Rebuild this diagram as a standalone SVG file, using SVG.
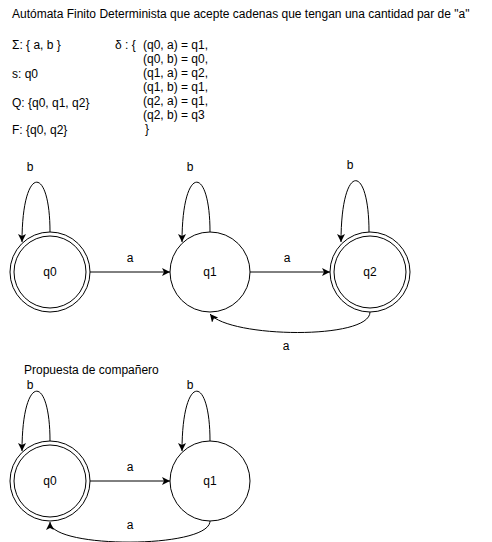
<svg xmlns="http://www.w3.org/2000/svg" width="492" height="542" viewBox="0 0 492 542">
<style>
text{font-family:"Liberation Sans",Arial,sans-serif;font-size:12px;fill:#000}
.c{text-anchor:middle}
.n{fill:#fff;stroke:#000;stroke-width:1}
.e{fill:none;stroke:#000;stroke-width:1}
</style>
<defs>
<marker id="ah" markerWidth="10" markerHeight="8" refX="8" refY="4" orient="auto" markerUnits="userSpaceOnUse">
<path d="M0,0 L8,4 L0,8 L2,4 Z" fill="#000"/>
</marker>
</defs>
<rect width="492" height="542" fill="#fff"/>
<g id="texts">
<text x="12" y="18">Autómata Finito Determinista que acepte cadenas que tengan una cantidad par de "a"</text>
<text x="12" y="49">Σ: { a, b }</text>
<text x="12" y="78">s: q0</text>
<text x="12" y="107">Q: {q0, q1, q2}</text>
<text x="12" y="134">F: {q0, q2}</text>
<text x="115" y="49">δ : {</text>
<text x="143" y="49">(q0, a) = q1,</text>
<text x="143" y="63">(q0, b) = q0,</text>
<text x="143" y="77">(q1, a) = q2,</text>
<text x="143" y="91">(q1, b) = q1,</text>
<text x="143" y="105">(q2, a) = q1,</text>
<text x="143" y="119">(q2, b) = q3</text>
<text x="145" y="133">}</text>
<text x="24" y="374">Propuesta de compañero</text>
</g>
<g id="connectors">
<path class="e" d="M90 272 L170 272" marker-end="url(#ah)"/>
<path class="e" d="M250 272 L330 272" marker-end="url(#ah)"/>
<path class="e" d="M370 312 C370 340 230 338 210 314" marker-end="url(#ah)"/>
<path class="e" d="M50 232 C50 164 22 164 22 242" marker-end="url(#ah)"/>
<path class="e" d="M210 232 C210 164 182 164 182 242" marker-end="url(#ah)"/>
<path class="e" d="M369 232 C369 162 341 162 341 242" marker-end="url(#ah)"/>
<path class="e" d="M90 481 L170 481" marker-end="url(#ah)"/>
<path class="e" d="M210 521 C210 549 50 549 50 522" marker-end="url(#ah)"/>
<path class="e" d="M50 441 C50 373 22 373 22 451" marker-end="url(#ah)"/>
<path class="e" d="M210 441 C210 373 182 373 182 451" marker-end="url(#ah)"/>
<text class="c" x="130" y="262">a</text>
<text class="c" x="287" y="262">a</text>
<text class="c" x="286" y="350">a</text>
<text class="c" x="30" y="171">b</text>
<text class="c" x="190" y="171">b</text>
<text class="c" x="350" y="169">b</text>
<text class="c" x="130" y="471">a</text>
<text class="c" x="130" y="529">a</text>
<text class="c" x="30" y="389">b</text>
<text class="c" x="190" y="389">b</text>
</g>
<g id="q0">
<circle class="n" cx="50" cy="272" r="40"/>
<circle class="n" cx="50" cy="272" r="36"/>
<text class="c" x="50" y="276">q0</text>
</g>
<g id="q1">
<circle class="n" cx="210" cy="272" r="40"/>
<text class="c" x="210" y="276">q1</text>
</g>
<g id="q2">
<circle class="n" cx="370" cy="272" r="40"/>
<circle class="n" cx="370" cy="272" r="36"/>
<text class="c" x="370" y="276">q2</text>
</g>
<g id="p_q0">
<circle class="n" cx="50" cy="481" r="40"/>
<circle class="n" cx="50" cy="481" r="36"/>
<text class="c" x="50" y="485">q0</text>
</g>
<g id="p_q1">
<circle class="n" cx="210" cy="481" r="40"/>
<text class="c" x="210" y="485">q1</text>
</g>
</svg>
